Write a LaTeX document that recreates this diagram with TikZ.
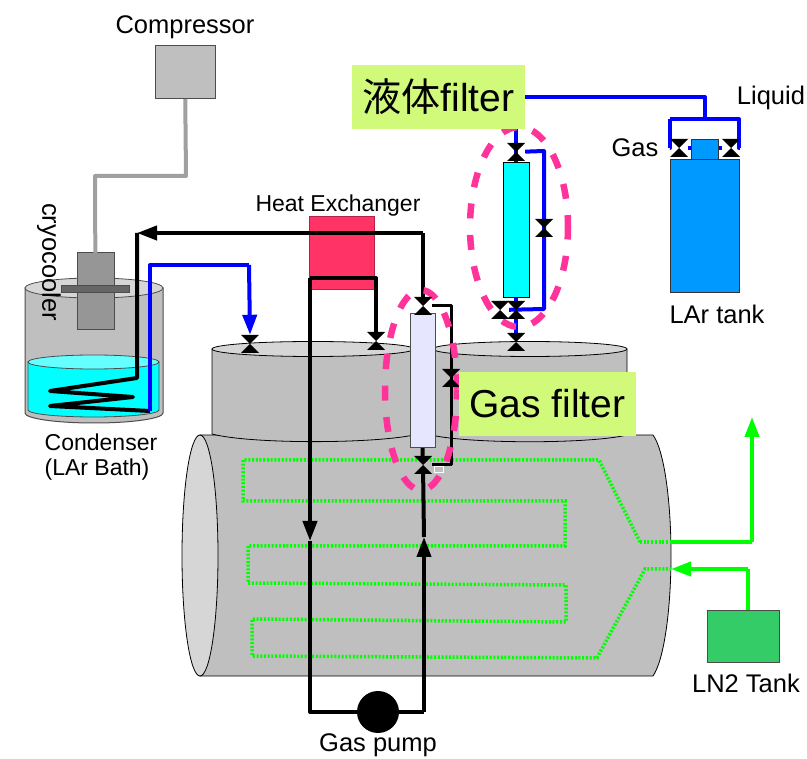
\documentclass[tikz,border=0pt]{standalone}
\usepackage{fontspec}
\setmainfont{Liberation Sans}
\newfontfamily\cjk{Noto Sans CJK JP}
\usetikzlibrary{arrows.meta}
\definecolor{vesselgray}{HTML}{BFBFBF}
\definecolor{lidgray}{HTML}{D6D6D6}
\definecolor{headgray}{HTML}{969696}
\definecolor{flangegray}{HTML}{666666}
\definecolor{pipegray}{HTML}{A0A0A0}
\definecolor{liquidcyan}{HTML}{00FFFF}
\definecolor{heatred}{HTML}{FF3366}
\definecolor{filterlav}{HTML}{E6E6FF}
\definecolor{tankblue}{HTML}{0099FF}
\definecolor{lntank}{HTML}{33CC66}
\definecolor{tagyellow}{HTML}{D2FA7A}
\definecolor{ringpink}{HTML}{FF3399}
\definecolor{pipegreen}{HTML}{00FF00}
\pgfdeclarelayer{top}
\pgfsetlayers{main,top}
\tikzset{
    box/.style={draw=#1,line width=1pt,inner sep=0pt,outer sep=0pt},
    box/.default=black!70,
    txt/.style={font=\fontsize{25.5}{30}\selectfont,inner sep=0pt},
    smalltxt/.style={font=\fontsize{23}{28}\selectfont,inner sep=0pt},
    tag/.style={fill=tagyellow,inner sep=0pt,font=\fontsize{39}{44}\selectfont},
    valve/.style={inner sep=0pt,minimum width=18pt,minimum height=18pt,
        path picture={\fill[black] (path picture bounding box.north west) -- (path picture bounding box.north east)
            -- (path picture bounding box.south west) -- (path picture bounding box.south east) -- cycle;}},
    gaspipe/.style={line width=4pt,black,line join=round},
    larpipe/.style={line width=4pt,blue,line join=round},
    nitropipe/.style={line width=4pt,pipegreen,line join=round},
    coilpipe/.style={line width=3.5pt,pipegreen,dash pattern=on 2pt off 1.7pt},
    ring/.style={draw=ringpink,line width=6.5pt,dash pattern=on 15pt off 16.5pt},
    tip/.style={-{Triangle[length=20pt,width=14pt]}}
}
\begin{document}
\begin{tikzpicture}[x=1pt,y=-1pt]
    \useasboundingbox (0,0) rectangle (807,759);

    % The big vessel
    \draw[fill=vesselgray,line width=0.8pt] (200,435) -- (653,435) .. controls (664,450) and (671,500) .. (671,555)
        .. controls (671,610) and (664,660) .. (653,676) -- (200,676) -- cycle;
    \draw[fill=lidgray,line width=0.8pt] (200,555.5) ellipse (18 and 120.5);

    % The necks
    \draw[fill=vesselgray,line width=0.8pt] (431,349) -- (431,435) .. controls (470,444) and (590,444) .. (627,435) -- (627,349) -- cycle;
    \draw[fill=lidgray,line width=0.8pt] (530,349) ellipse (97 and 7.5);
    \draw[fill=vesselgray,line width=0.8pt] (212,349) -- (212,434) .. controls (250,444) and (370,444) .. (414,435) -- (414,349) -- cycle;
    \draw[fill=lidgray,line width=0.8pt] (313,349) ellipse (101 and 7.5);

    % The cooling coil
    \draw[coilpipe] (640,542) -- (599,460) -- (243,460) -- (243,501) -- (565,501) -- (565,546) -- (248,546)
        -- (248,583) -- (566,585) -- (566,622) -- (252,619) -- (252,656) -- (597,658) -- (645,569) -- (671,569);
    \draw[coilpipe] (640,542) -- (671,542);

    % The condenser
    \draw[fill=vesselgray,draw=black!70,line width=1pt] (25,288) -- (25,413) arc[start angle=180,end angle=0,x radius=69,y radius=10] -- (163,288) -- cycle;
    \draw[fill=lidgray,draw=black!70,line width=0.8pt] (94,288) ellipse (69 and 10);
    \draw[fill=liquidcyan,draw=black!70,line width=0.8pt] (28,362) -- (28,410) arc[start angle=180,end angle=0,x radius=65.5,y radius=7] -- (159,362) -- cycle;
    \draw[fill=liquidcyan!60,draw=black!70,line width=0.8pt] (93.5,362) ellipse (65.5 and 7);

    % Place the nodes
    \node[box,fill=vesselgray,minimum width=60pt,minimum height=53pt] (compressor) at (185,72.5) {};
    \node[box,fill=headgray,minimum width=37pt,minimum height=77pt] (head) at (95.5,291.5) {};
    \node[box,fill=flangegray,minimum width=68pt,minimum height=7pt] (flange) at (95,289.5) {};
    \node[box=heatred!70!black,fill=heatred,minimum width=65pt,minimum height=73pt] (exchanger) at (341.5,253.5) {};
    \node[box=black!80,fill=tankblue,minimum width=69pt,minimum height=133pt] (lartank) at (704.5,226.5) {};
    \node[box,fill=lntank,minimum width=72pt,minimum height=52pt] (lntank) at (743,636) {};
    \node[circle,fill=black,minimum size=42pt,inner sep=0pt] (pump) at (378,712) {};

    % Filters and valves sit on the rings
    \begin{pgfonlayer}{top}
    \node[box,fill=liquidcyan,draw=black,minimum width=26pt,minimum height=135pt] (liqfilter) at (516,230.5) {};
    \node[box,fill=filterlav,minimum width=25pt,minimum height=134pt] (gasfilter) at (422.5,381) {};
    \node[box=black!80,fill=tankblue,minimum width=27pt,minimum height=20pt] (neck) at (704.5,150) {};
    \node[valve] (vbath) at (250,344) {};
    \node[valve] (vhex) at (376,341) {};
    \node[valve] (vgtop) at (423,306) {};
    \node[valve] (vgbot) at (423,465) {};
    \node[valve] (vgby) at (451,378) {};
    \node[valve] (vltop) at (516,152) {};
    \node[valve] (vlby) at (544,228) {};
    \node[valve] (vlout) at (500,310) {};
    \node[valve] (vlbot) at (516,310) {};
    \node[valve] (vlneck) at (516,342) {};
    \node[valve] (vgas) at (679,148) {};
    \node[valve] (vliq) at (731,148) {};
    \end{pgfonlayer}

    % Corners of the pipes
    \coordinate (c1) at (186,176);
    \coordinate (c2) at (95,176);
    \coordinate (b0) at (137,378);
    \coordinate (b1) at (50,391);
    \coordinate (b2) at (133,397);
    \coordinate (b3) at (50,406);
    \coordinate (b4) at (150,411);
    \coordinate (b5) at (150,265);
    \coordinate (b6) at (249,265);
    \coordinate (t0) at (137,233);
    \coordinate (t1) at (423,233);
    \coordinate (h1) at (310,278);
    \coordinate (h2) at (376,278);
    \coordinate (a1) at (310,541);
    \coordinate (a2) at (424,537);
    \coordinate (p1) at (310,712);
    \coordinate (p2) at (424,712);
    \coordinate (g1) at (451,306);
    \coordinate (g2) at (451,465);
    \coordinate (l0) at (516,125);
    \coordinate (l1) at (705,97);
    \coordinate (l2) at (705,119);
    \coordinate (l3) at (670,119);
    \coordinate (l4) at (739,119);
    \coordinate (l5) at (670,148);
    \coordinate (l6) at (739,148);
    \coordinate (f1) at (544,151);
    \coordinate (f2) at (544,309);
    \coordinate (n0) at (671,542);
    \coordinate (n1) at (752,542);
    \coordinate (n2) at (752,417);
    \coordinate (n3) at (748,569);
    \coordinate (n4) at (671,569);

    % Draw the lines
    \draw[line width=4pt,pipegray,line join=round] (compressor) -- (c1) -- (c2) -- (head);
    \draw[gaspipe,tip] (t1) -- (t0);
    \draw[gaspipe] (vgtop) -- (t1);
    \draw[gaspipe] (t0) -- (b0) -- (b1) -- (b2) -- (b3) -- (b4);
    \draw[larpipe] (b4) -- (b5) -- (b6);
    \draw[larpipe,tip] (b6) -- (vbath.north);
    \draw[gaspipe] (vhex) -- (h2) -- (h1);
    \draw[gaspipe,tip] (h1) -- (a1);
    \draw[gaspipe] (a1) -- (p1) -- (pump);
    \draw[gaspipe] (pump) -- (p2);
    \draw[gaspipe,tip] (p2) -- (a2);
    \draw[gaspipe] (a2) -- (vgbot);
    \draw[gaspipe] (vgbot) -- (gasfilter.south);
    \draw[gaspipe,line width=3pt] (vgtop) -- (g1) -- (g2) -- (vgbot);
    \draw[larpipe] (vltop) -- (f1) -- (f2) -- (vlout);
    \draw[larpipe] (l0) -- (liqfilter.north);
    \draw[larpipe] (liqfilter.south) -- (vlneck);
    \draw[larpipe] (525,97) -- (l1) -- (l2);
    \draw[larpipe] (l3) -- (l4) -- (l6) -- (vliq);
    \draw[larpipe] (l3) -- (l5) -- (vgas);
    \draw[larpipe] (vgas) -- (vliq);
    \draw[nitropipe] (n0) -- (n1);
    \draw[nitropipe,tip] (n1) -- (n2);
    \draw[nitropipe] (lntank.north -| n3) -- (n3);
    \draw[nitropipe,tip] (n3) -- (n4);

    % The rings round the filters
    \draw[ring,dash phase=2.5pt] (519,227) ellipse (49 and 100);
    \draw[ring,dash phase=5.5pt] (421,390) ellipse (36 and 100);
    \draw[white,line width=1pt] (434,467) rectangle (443,473);

    % Finally the labels
    \begin{pgfonlayer}{top}
    \node[tag,minimum width=173pt,minimum height=64pt] (liqtag) at (438.5,97) {{\cjk 液体}filter};
    \node[tag,minimum width=177pt,minimum height=64pt] (gastag) at (547.5,404) {Gas filter};
    \node[txt] (tcomp) at (185,27) {Compressor};
    \node[txt,rotate=-90] (tcryo) at (49,262) {cryocooler};
    \node[smalltxt] (thex) at (338,206) {Heat Exchanger};
    \node[smalltxt] (tcond) at (101,442) {Condenser};
    \node[smalltxt] (tbath) at (97,470) {(LAr Bath)};
    \node[txt] (tpump) at (378,745) {Gas pump};
    \node[txt] (tlar) at (717,314) {LAr tank};
    \node[txt] (tlnt) at (746,683) {LN2 Tank};
    \node[txt] (tgas) at (635,148) {Gas};
    \node[txt] (tliq) at (771,98) {Liquid};
    \end{pgfonlayer}
\end{tikzpicture}
\end{document}
